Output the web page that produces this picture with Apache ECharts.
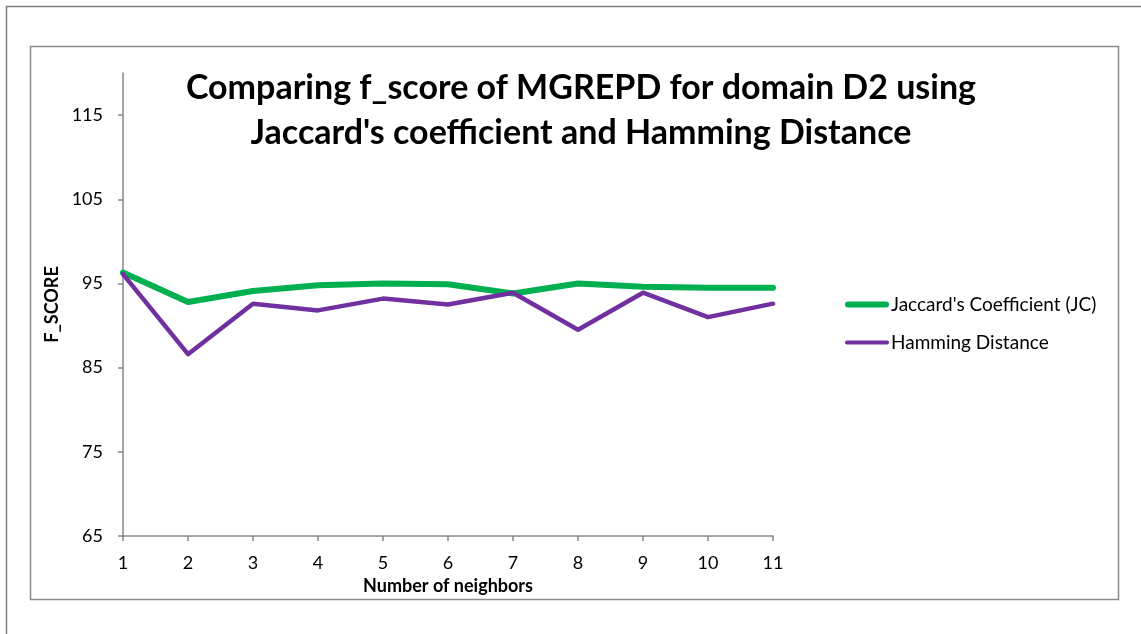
<!DOCTYPE html>
<html>
<head>
<meta charset="utf-8">
<script src="https://cdn.jsdelivr.net/npm/echarts@6/dist/echarts.min.js"></script>
<style>
  html, body { margin: 0; padding: 0; background: #fff; }
  #chart { width: 1141px; height: 634px; }
</style>
</head>
<body>
<div id="chart"></div>
<script>
// x categories: number of neighbors
var neighbors = ['1', '2', '3', '4', '5', '6', '7', '8', '9', '10', '11'];
// f_score values
var jaccard = [96.3, 92.8, 94.1, 94.8, 95.0, 94.9, 93.8, 95.0, 94.6, 94.5, 94.5];
var hamming = [96.1, 86.6, 92.6, 91.8, 93.2, 92.5, 93.9, 89.5, 93.9, 91.0, 92.6];
var yTicks = [65, 75, 85, 95, 105, 115];

var font = 'Lato, "Open Sans", sans-serif';
var chart = echarts.init(document.getElementById('chart'));

chart.setOption({
  animation: false,
  textStyle: { fontFamily: font },
  // outer chart border and inner plot-area border
  graphic: [
    { type: 'rect', shape: { x: 6.5, y: 6.5, width: 1150, height: 650 },
      style: { fill: 'none', stroke: '#7f7f7f', lineWidth: 1.5 }, silent: true },
    { type: 'rect', shape: { x: 30.5, y: 46.5, width: 1088, height: 553 },
      style: { fill: 'none', stroke: '#8c8c8c', lineWidth: 1.5 }, silent: true }
  ],
  title: {
    text: "Comparing f_score of MGREPD for domain D2 using\nJaccard's coefficient and Hamming Distance",
    left: 576,
    top: 61,
    textAlign: 'center',
    textStyle: { fontFamily: font, fontWeight: 'bold', fontSize: 34, lineHeight: 45, color: '#000' }
  },
  legend: {
    orient: 'vertical',
    left: 845,
    top: 295,
    padding: 0,
    itemWidth: 44,
    itemHeight: 12,
    itemGap: 19,
    data: [
      { name: "Jaccard's Coefficient (JC)", icon: 'path://M3,0H41A3,3 0 0 1 41,6H3A3,3 0 0 1 3,0Z' },
      { name: 'Hamming Distance', icon: 'path://M2,0H42A2,2 0 0 1 42,4H2A2,2 0 0 1 2,0Z' }
    ],
    textStyle: { fontFamily: font, fontSize: 19, color: '#000', padding: [0, 0, 0, -3] }
  },
  grid: { left: 123, right: 368, top: 73, bottom: 98, containLabel: false },
  xAxis: {
    type: 'category',
    data: neighbors,
    boundaryGap: false,
    name: 'Number of neighbors',
    nameLocation: 'middle',
    nameGap: 40,
    nameTextStyle: { fontFamily: font, fontWeight: 'bold', fontSize: 18, color: '#000' },
    axisLine: { lineStyle: { color: '#868686', width: 1.5 } },
    axisTick: { length: 5, lineStyle: { color: '#868686', width: 1.5 } },
    axisLabel: { color: '#000', fontSize: 18, margin: 18, fontFamily: font },
    splitLine: { show: false }
  },
  yAxis: {
    type: 'value',
    min: 65,
    max: 120,
    interval: 10,
    name: 'F_SCORE',
    nameLocation: 'middle',
    nameGap: 56,
    nameRotate: 90,
    nameTextStyle: { fontFamily: font, fontWeight: 'bold', fontSize: 18, color: '#000' },
    axisLine: { show: true, lineStyle: { color: '#868686', width: 1.5 } },
    axisTick: { show: true, length: 5, customValues: yTicks, lineStyle: { color: '#868686', width: 1.5 } },
    axisLabel: { color: '#000', fontSize: 18, margin: 20, fontFamily: font, customValues: yTicks },
    splitLine: { show: false }
  },
  series: [
    {
      name: "Jaccard's Coefficient (JC)",
      type: 'line',
      data: jaccard,
      symbol: 'none',
      color: '#00b050',
      lineStyle: { width: 6, color: '#00b050', cap: 'round', join: 'round' },
      z: 2
    },
    {
      name: 'Hamming Distance',
      type: 'line',
      data: hamming,
      symbol: 'none',
      color: '#7030a0',
      lineStyle: { width: 4.5, color: '#7030a0', cap: 'round', join: 'round' },
      z: 3
    }
  ]
});
</script>
</body>
</html>
